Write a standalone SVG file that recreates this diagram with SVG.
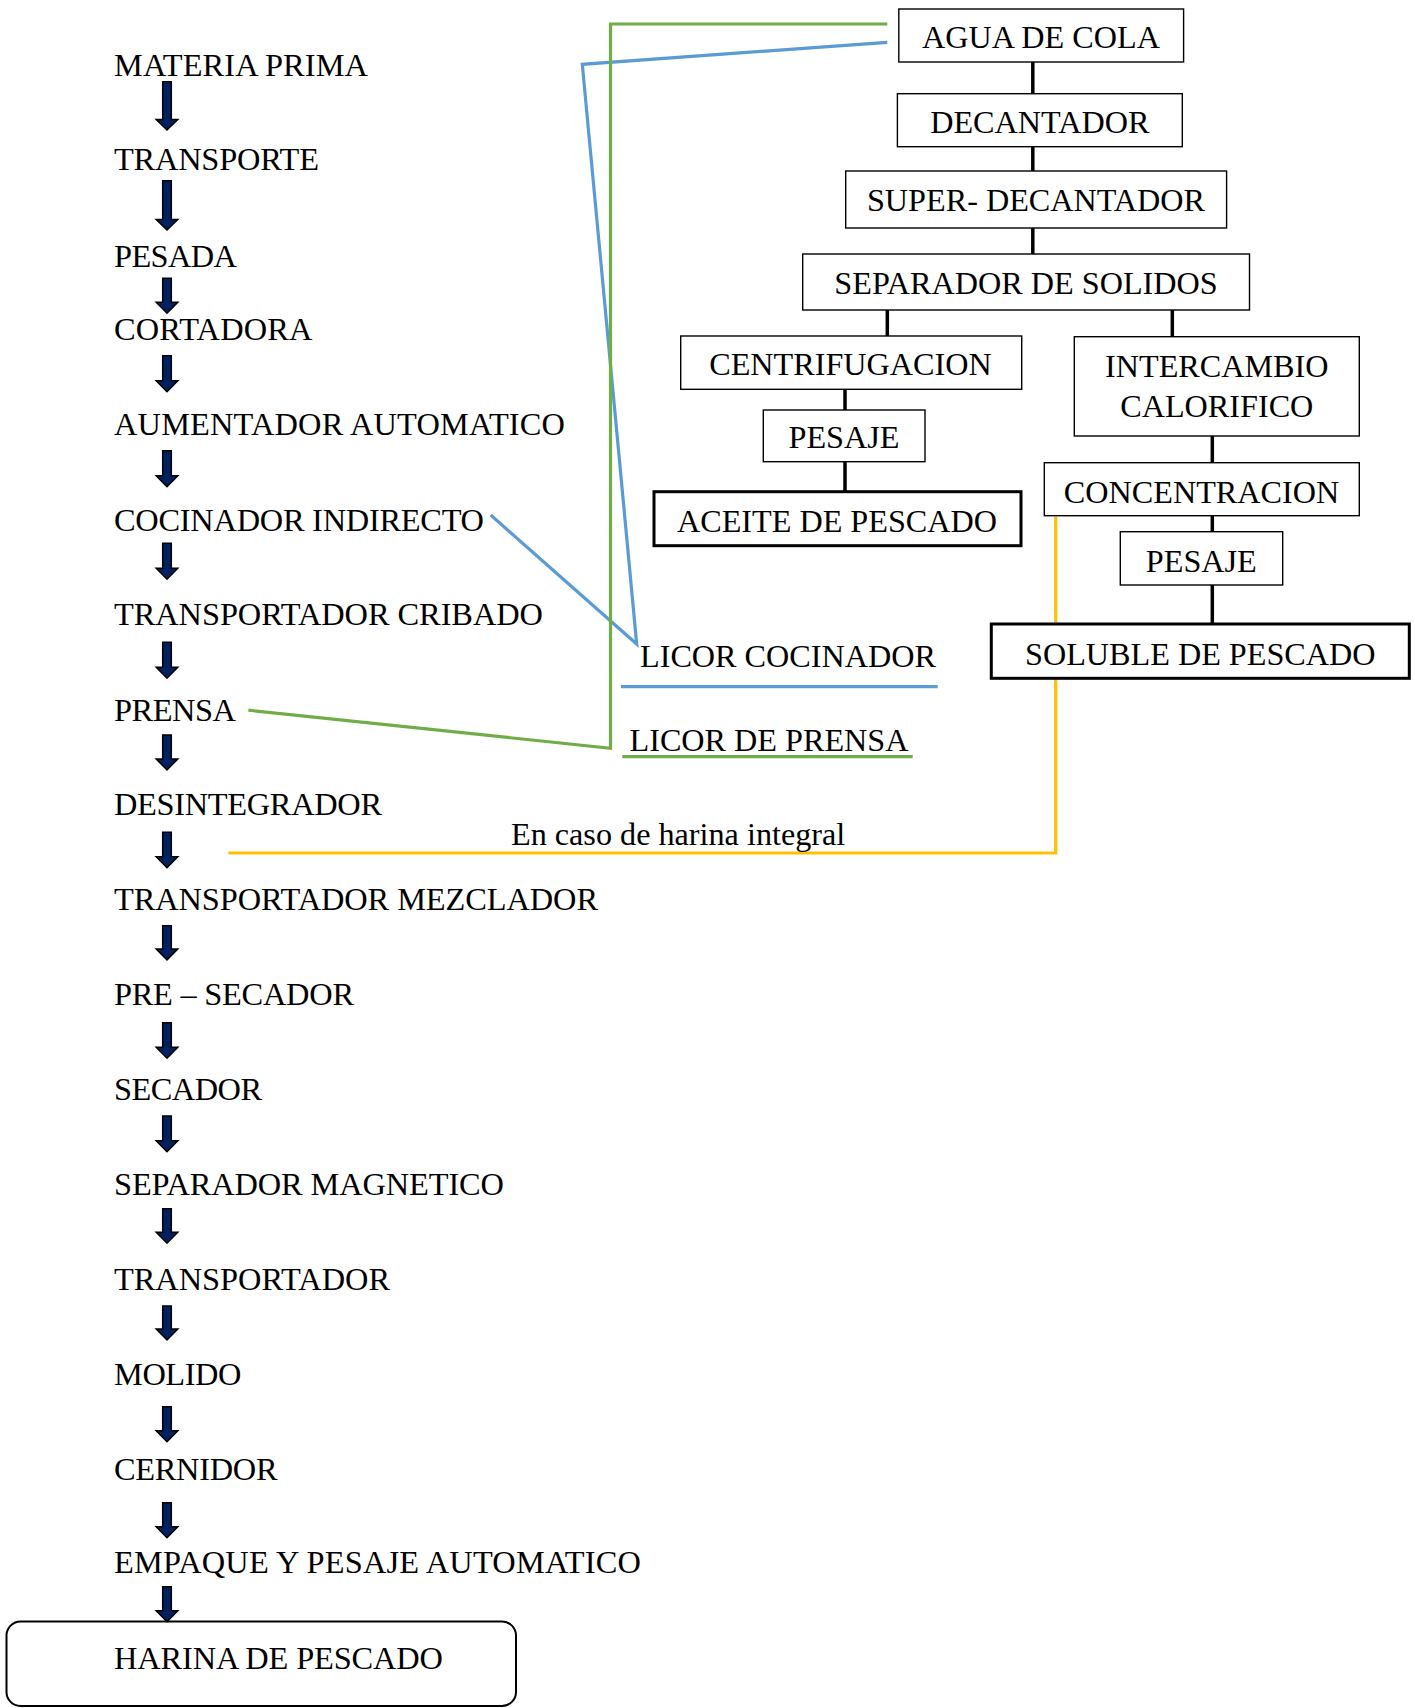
<svg xmlns="http://www.w3.org/2000/svg" width="1415" height="1708" viewBox="0 0 1415 1708">
<style>
text{font-family:"Liberation Serif","Times New Roman",serif;font-size:32.2px;fill:#000}
.m{font-size:32.4px}
.c{text-anchor:middle}
.box{fill:#fff;stroke:#000;stroke-width:1.4}
.tbox{fill:#fff;stroke:#000;stroke-width:3}
.arr{fill:#002060;stroke:#000;stroke-width:1.5;stroke-linejoin:miter}
.k{stroke:#000;stroke-width:3.5;fill:none}
.blue{stroke:#5B9BD5;stroke-width:3.2;fill:none}
.green{stroke:#70AD47;stroke-width:3.2;fill:none}
.yel{stroke:#FFC000;stroke-width:3.2;fill:none}
</style>
<rect width="1415" height="1708" fill="#fff"/>

<g id="connectors">
<polyline class="blue" points="490.7,515 636.7,644 582.3,64.3 887.3,42.3"/>
<polyline class="green" points="248.4,710.2 610.5,748.3 610.5,24 887.3,24"/>
<polyline class="yel" points="1055.7,516.7 1055.7,853 228.3,853"/>
<line class="blue" x1="621" y1="686.7" x2="937.7" y2="686.7"/>
<line class="green" x1="622.3" y1="756.7" x2="912.7" y2="756.7"/>
<line class="k" x1="1032.8" y1="62" x2="1032.8" y2="94"/>
<line class="k" x1="1032.8" y1="146.7" x2="1032.8" y2="171"/>
<line class="k" x1="1032.8" y1="228" x2="1032.8" y2="254"/>
<line class="k" x1="887.3" y1="310" x2="887.3" y2="336"/>
<line class="k" x1="1172.3" y1="310" x2="1172.3" y2="336.7"/>
<line class="k" x1="845" y1="389.3" x2="845" y2="410"/>
<line class="k" x1="845" y1="461.7" x2="845" y2="491.7"/>
<line class="k" x1="1212.3" y1="436" x2="1212.3" y2="462.7"/>
<line class="k" x1="1212.3" y1="515.7" x2="1212.3" y2="531.7"/>
<line class="k" x1="1212.3" y1="585" x2="1212.3" y2="624"/>
<path class="arr" d="M162.7,81.7 H171.3 V119.5 H177.8 L167,130 L156.2,119.5 H162.7 Z"/>
<path class="arr" d="M162.7,180.7 H171.3 V219.5 H177.8 L167,230 L156.2,219.5 H162.7 Z"/>
<path class="arr" d="M162.7,278.3 H171.3 V302.3 H177.8 L167,313.3 L156.2,302.3 H162.7 Z"/>
<path class="arr" d="M162.7,355.7 H171.3 V380.7 H177.8 L167,391.7 L156.2,380.7 H162.7 Z"/>
<path class="arr" d="M162.7,450.7 H171.3 V475.7 H177.8 L167,486.7 L156.2,475.7 H162.7 Z"/>
<path class="arr" d="M162.7,543.3 H171.3 V568.3 H177.8 L167,579.3 L156.2,568.3 H162.7 Z"/>
<path class="arr" d="M162.7,642.3 H171.3 V667.3 H177.8 L167,678.3 L156.2,667.3 H162.7 Z"/>
<path class="arr" d="M162.7,735 H171.3 V759 H177.8 L167,770 L156.2,759 H162.7 Z"/>
<path class="arr" d="M162.7,832.3 H171.3 V856.7 H177.8 L167,867.7 L156.2,856.7 H162.7 Z"/>
<path class="arr" d="M162.7,925.7 H171.3 V949 H177.8 L167,960 L156.2,949 H162.7 Z"/>
<path class="arr" d="M162.7,1022.7 H171.3 V1047.3 H177.8 L167,1058.3 L156.2,1047.3 H162.7 Z"/>
<path class="arr" d="M162.7,1116 H171.3 V1140.7 H177.8 L167,1151.7 L156.2,1140.7 H162.7 Z"/>
<path class="arr" d="M162.7,1208.7 H171.3 V1232.3 H177.8 L167,1243.3 L156.2,1232.3 H162.7 Z"/>
<path class="arr" d="M162.7,1306 H171.3 V1329 H177.8 L167,1340 L156.2,1329 H162.7 Z"/>
<path class="arr" d="M162.7,1406.7 H171.3 V1430.7 H177.8 L167,1441.7 L156.2,1430.7 H162.7 Z"/>
<path class="arr" d="M162.7,1502.7 H171.3 V1526.7 H177.8 L167,1537.7 L156.2,1526.7 H162.7 Z"/>
<path class="arr" d="M162.7,1586.7 H171.3 V1610.7 H177.8 L167,1621.7 L156.2,1610.7 H162.7 Z"/>
</g>

<g id="main-steps">
<text class="m" id="n-materia" x="114" y="76" textLength="254" lengthAdjust="spacing">MATERIA PRIMA</text>
<text class="m" id="n-transporte" x="114" y="170" textLength="205" lengthAdjust="spacing">TRANSPORTE</text>
<text class="m" id="n-pesada" x="114" y="266.7" textLength="123" lengthAdjust="spacing">PESADA</text>
<text class="m" id="n-cortadora" x="114" y="340" textLength="198.5" lengthAdjust="spacing">CORTADORA</text>
<text class="m" id="n-aumentador" x="114" y="435" textLength="451" lengthAdjust="spacing">AUMENTADOR AUTOMATICO</text>
<text class="m" id="n-cocinador" x="114" y="530.7" textLength="370" lengthAdjust="spacing">COCINADOR INDIRECTO</text>
<text class="m" id="n-cribado" x="114" y="625" textLength="429" lengthAdjust="spacing">TRANSPORTADOR CRIBADO</text>
<text class="m" id="n-prensa" x="114" y="720.7" textLength="122" lengthAdjust="spacing">PRENSA</text>
<text class="m" id="n-desintegrador" x="114" y="815" textLength="268" lengthAdjust="spacing">DESINTEGRADOR</text>
<text class="m" id="n-mezclador" x="114" y="910" textLength="484" lengthAdjust="spacing">TRANSPORTADOR MEZCLADOR</text>
<text class="m" id="n-presecador" x="114" y="1005" textLength="240" lengthAdjust="spacing">PRE – SECADOR</text>
<text class="m" id="n-secador" x="114" y="1100" textLength="148" lengthAdjust="spacing">SECADOR</text>
<text class="m" id="n-magnetico" x="114" y="1195" textLength="390" lengthAdjust="spacing">SEPARADOR MAGNETICO</text>
<text class="m" id="n-transportador" x="114" y="1290" textLength="276" lengthAdjust="spacing">TRANSPORTADOR</text>
<text class="m" id="n-molido" x="114" y="1385" textLength="127.5" lengthAdjust="spacing">MOLIDO</text>
<text class="m" id="n-cernidor" x="114" y="1480" textLength="163.5" lengthAdjust="spacing">CERNIDOR</text>
<text class="m" id="n-empaque" x="114" y="1572.7" textLength="527" lengthAdjust="spacing">EMPAQUE Y PESAJE AUTOMATICO</text>
</g>

<g id="n-harina">
<rect x="6.5" y="1621.5" width="509.5" height="84.5" rx="14" ry="14" fill="none" stroke="#000" stroke-width="2"/>
<text class="m" x="114" y="1669.3" textLength="329" lengthAdjust="spacing">HARINA DE PESCADO</text>
</g>

<g id="n-agua"><rect class="box" x="898.8" y="9" width="284.8" height="53"/><text class="c" x="1041" y="48.3">AGUA DE COLA</text></g>
<g id="n-decantador"><rect class="box" x="897.4" y="93.7" width="284.9" height="53"/><text class="c" x="1039.8" y="133.3">DECANTADOR</text></g>
<g id="n-superdecantador"><rect class="box" x="845.7" y="171" width="380.9" height="57"/><text class="c" x="1036" y="210.7">SUPER- DECANTADOR</text></g>
<g id="n-separador"><rect class="box" x="802.7" y="254" width="446.8" height="56"/><text class="c" x="1026" y="294">SEPARADOR DE SOLIDOS</text></g>
<g id="n-centrifugacion"><rect class="box" x="680.7" y="336" width="341" height="53.3"/><text class="c" x="850.5" y="375">CENTRIFUGACION</text></g>
<g id="n-pesaje1"><rect class="box" x="763.3" y="410" width="161.7" height="51.7"/><text class="c" x="844" y="448.3">PESAJE</text></g>
<g id="n-aceite"><rect class="tbox" x="654" y="491.7" width="367" height="54"/><text class="c" x="837" y="531.7">ACEITE DE PESCADO</text></g>
<g id="n-intercambio"><rect class="box" x="1074.3" y="336.7" width="285" height="99.3"/><text class="c" x="1216.8" y="376.7">INTERCAMBIO</text><text class="c" x="1216.8" y="416.7">CALORIFICO</text></g>
<g id="n-concentracion"><rect class="box" x="1044.3" y="462.7" width="315" height="53"/><text class="c" x="1201.5" y="502.7">CONCENTRACION</text></g>
<g id="n-pesaje2"><rect class="box" x="1120.3" y="531.7" width="162.4" height="53.3"/><text class="c" x="1201.3" y="571.7">PESAJE</text></g>
<g id="n-soluble"><rect class="tbox" x="991.3" y="624" width="418" height="54.3"/><text class="c" x="1200.3" y="665">SOLUBLE DE PESCADO</text></g>

<g id="n-licor-cocinador"><text x="640" y="666.7">LICOR COCINADOR</text></g>
<g id="n-licor-prensa"><text x="629.5" y="750.7">LICOR DE PRENSA</text></g>
<g id="label-integral"><text x="511" y="845">En caso de harina integral</text></g>
</svg>
